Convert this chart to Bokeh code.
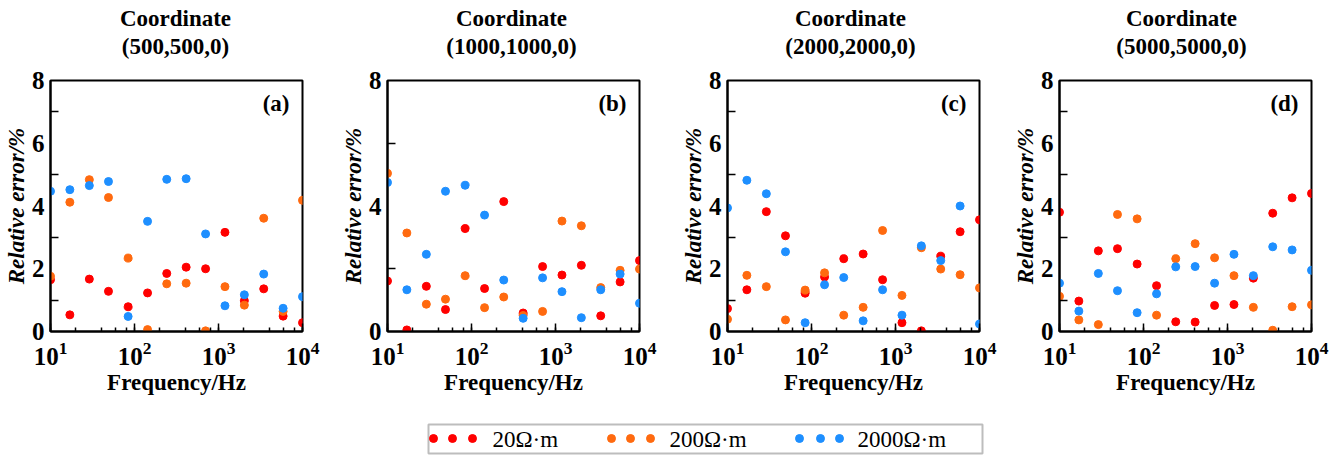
from bokeh.plotting import figure
from bokeh.layouts import column, row
from bokeh.models import Range1d, FixedTicker, LogTicker, Label
from bokeh.embed import file_html
from bokeh.resources import INLINE
from bokeh.core.properties import value

# Frequencies (Hz) of the 14 sampling points
freq = [10, 17, 29, 49, 84, 143, 242, 412, 702, 1194, 2031, 3455, 5878, 10000]

# Relative error (%) for the three resistivity models, per receiver coordinate
a_20 = [1.65, 0.53, 1.67, 1.28, 0.79, 1.23, 1.85, 2.05, 2.00, 3.16, 0.98, 1.36, 0.49, 0.28]
a_200 = [1.76, 4.12, 4.84, 4.27, 2.34, 0.06, 1.52, 1.54, 0.02, 1.43, 0.84, 3.61, 0.64, 4.18]
a_2000 = [4.47, 4.52, 4.65, 4.78, 0.48, 3.51, 4.85, 4.87, 3.11, 0.82, 1.17, 1.83, 0.74, 1.11]

b_20 = [1.61, 0.05, 1.44, 0.70, 3.28, 1.37, 4.14, 0.59, 2.07, 1.80, 2.11, 0.50, 1.58, 2.26]
b_200 = [5.04, 3.14, 0.87, 1.03, 1.78, 0.76, 1.10, 0.51, 0.64, 3.52, 3.37, 1.40, 1.95, 1.99]
b_2000 = [4.75, 1.33, 2.46, 4.47, 4.66, 3.71, 1.64, 0.42, 1.71, 1.27, 0.44, 1.33, 1.83, 0.90]

c_20 = [0.73, 1.33, 3.82, 3.05, 1.22, 1.74, 2.32, 2.47, 1.65, 0.28, 0.02, 2.40, 3.18, 3.56]
c_200 = [0.39, 1.79, 1.43, 0.37, 1.32, 1.87, 0.52, 0.77, 3.22, 1.15, 2.67, 1.99, 1.81, 1.39]
c_2000 = [3.94, 4.82, 4.39, 2.54, 0.28, 1.49, 1.72, 0.34, 1.33, 0.52, 2.73, 2.26, 4.00, 0.24]

d_20 = [3.80, 0.97, 2.57, 2.64, 2.15, 1.46, 0.31, 0.30, 0.83, 0.86, 1.70, 3.77, 4.26, 4.40]
d_200 = [1.12, 0.37, 0.22, 3.73, 3.59, 0.52, 2.32, 2.80, 2.35, 1.78, 0.77, 0.04, 0.79, 0.85]
d_2000 = [1.54, 0.65, 1.85, 1.30, 0.60, 1.20, 2.06, 2.07, 1.54, 2.46, 1.78, 2.70, 2.60, 1.95]

coordinates = ["(500,500,0)", "(1000,1000,0)", "(2000,2000,0)", "(5000,5000,0)"]
panel_tags = ["(a)", "(b)", "(c)", "(d)"]
series_names = ["20Ω·m", "200Ω·m", "2000Ω·m"]
colors = ["#ff0000", "#ff6a0f", "#1e8fff"]

panels = [(a_20, a_200, a_2000), (b_20, b_200, b_2000),
          (c_20, c_200, c_2000), (d_20, d_200, d_2000)]
y_major = [[0, 2, 4, 6, 8], [0, 4, 8], [0, 2, 4, 6, 8], [0, 2, 4, 6, 8]]
y_minor = [[1, 3, 5, 7], [2, 6], [1, 3, 5, 7], [1, 3, 5, 7]]
fig_widths = [336, 339, 331, 323]

SERIF = "Liberation Serif"
FRAME_W, FRAME_H = 252, 251
BORDER_L = 49
TITLE_H = 60


def make_panel(i):
    w = fig_widths[i]
    p = figure(x_axis_type="log", output_backend="svg", toolbar_location=None,
               frame_width=FRAME_W, frame_height=FRAME_H,
               min_border_left=BORDER_L, min_border_right=w - BORDER_L - FRAME_W,
               min_border_top=80 - TITLE_H, min_border_bottom=69,
               x_range=Range1d(10, 10000), y_range=Range1d(0, 8),
               background_fill_color="white", border_fill_color="white")
    p.grid.visible = False
    p.outline_line_color = "black"
    p.outline_line_width = 2

    for ax in (p.xaxis[0], p.yaxis[0]):
        ax.axis_line_width = 2
        ax.major_tick_out = 0
        ax.minor_tick_out = 0
        ax.major_tick_line_width = 1.5
        ax.minor_tick_line_width = 1.5
        ax.major_label_text_font = SERIF
        ax.major_label_text_font_style = "bold"
        ax.major_label_text_font_size = "25px"
        ax.major_label_text_color = "black"
        ax.axis_label_text_font = SERIF
        ax.axis_label_text_font_size = "23px"
        ax.axis_label_text_color = "black"

    xa = p.xaxis[0]
    xa.ticker = LogTicker(desired_num_ticks=4)
    xa.major_tick_in = 8
    xa.minor_tick_in = 4
    xa.major_label_standoff = 10
    xa.axis_label = "Frequency/Hz"
    xa.axis_label_text_font_style = "bold"
    xa.axis_label_standoff = 2

    ya = p.yaxis[0]
    ya.ticker = FixedTicker(ticks=y_major[i], minor_ticks=y_minor[i])
    ya.major_tick_in = 0
    ya.minor_tick_in = 8
    ya.major_label_standoff = 6
    ya.axis_label = "Relative error/%"
    ya.axis_label_text_font_style = "bold italic"
    ya.axis_label_standoff = 0

    for vals, col in zip(panels[i], colors):
        p.scatter(freq, vals, size=8, color=col, line_color=col)

    p.add_layout(Label(x=7000, y=7.27, text=panel_tags[i], text_font=SERIF,
                       text_font_size="23px", text_font_style="bold",
                       text_color="black",
                       text_align="right", text_baseline="middle"))
    return p


figs = [make_panel(i) for i in range(4)]

# Two-line panel headings, centred over each plot frame
head = figure(width=1329, height=TITLE_H, output_backend="svg", toolbar_location=None,
              x_range=Range1d(0, 1329), y_range=Range1d(TITLE_H, 0),
              min_border=0, background_fill_color="white", border_fill_color="white")
head.axis.visible = False
head.grid.visible = False
head.outline_line_color = None
left = 0
centres = []
for w in fig_widths:
    centres.append(left + BORDER_L + FRAME_W / 2)
    left += w
head.text(centres, [18] * 4, text=["Coordinate"] * 4, text_font=value(SERIF),
          text_font_size="23px", text_font_style="bold", text_color="black",
          text_align="center", text_baseline="middle")
head.text(centres, [46] * 4, text=coordinates, text_font=value(SERIF),
          text_font_size="23px", text_font_style="bold", text_color="black",
          text_align="center", text_baseline="middle")

# Shared legend strip drawn below the panels
leg = figure(width=1329, height=62, output_backend="svg", toolbar_location=None,
             x_range=Range1d(0, 1329), y_range=Range1d(62, 0),
             min_border=0, background_fill_color="white", border_fill_color="white")
leg.axis.visible = False
leg.grid.visible = False
leg.outline_line_color = None
leg.quad(left=[428], right=[982], top=[24], bottom=[53], fill_color="white",
         line_color="#bdbdbd", line_width=2)
dot_x = [[433, 452, 472], [611, 630, 650], [799, 820, 839]]
text_x = [492, 669, 857]
for xs, col, tx, name in zip(dot_x, colors, text_x, series_names):
    leg.scatter(xs, [38] * 3, size=8, color=col)
    leg.text([tx], [38.5], text=[name], text_font=value(SERIF), text_font_size="23px",
             text_baseline="middle", text_align="left", text_color="black")

layout = column(head, row(*figs, spacing=0), leg, spacing=0)
open("out.html", "w").write(file_html(layout, INLINE))
